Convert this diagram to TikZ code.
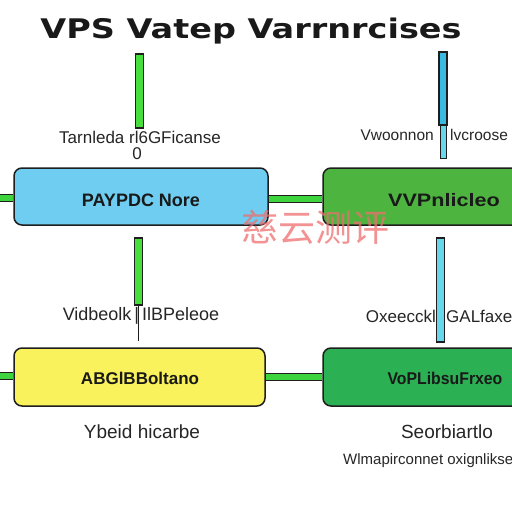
\documentclass[tikz,border=0pt]{standalone}
\usepackage{fontspec}
\setmainfont{Liberation Sans}
\newfontfamily\titlefont{DejaVu Sans}
\newfontfamily\cjk{Noto Sans CJK SC}
\definecolor{boxblue}{RGB}{110,205,240}
\definecolor{boxgreenA}{RGB}{78,180,64}
\definecolor{boxgreenB}{RGB}{44,176,84}
\definecolor{boxyellow}{RGB}{250,242,92}
\definecolor{conngreen}{RGB}{62,212,62}
\definecolor{bargreen}{RGB}{72,222,62}
\definecolor{barcyan}{RGB}{58,185,225}
\definecolor{barcyanlight}{RGB}{105,215,235}
\definecolor{outline}{RGB}{30,30,30}
\definecolor{wm}{RGB}{238,110,110}
\tikzset{
  panel/.style={draw=outline, line width=1.5pt, rounded corners=8pt, minimum height=57pt, inner sep=0pt},
  boxtxt/.style={inner sep=0pt, text=black!90, font=\fontsize{18}{18}\selectfont\bfseries},
  barbox/.style={draw=outline, line width=1.1pt, inner sep=0pt, minimum width=8pt},
  link/.style={draw=outline, line width=1.2pt, double=conngreen, double distance=6pt},
  lbl/.style={inner sep=0pt, text=black!85, font=\fontsize{17}{17}\selectfont},
  lblbig/.style={inner sep=0pt, text=black!85, font=\fontsize{19}{19}\selectfont},
  lblsmall/.style={inner sep=0pt, text=black!85, font=\fontsize{15}{15}\selectfont},
}
\begin{document}
\begin{tikzpicture}[x=1pt,y=-1pt]
\clip (0,0) rectangle (512,512);
\fill[white] (0,0) rectangle (512,512);
% title
\node[inner sep=0pt, text=black!90, font=\titlefont\bfseries\fontsize{27}{27}\selectfont] (title) at (251,31) {\scalebox{1.24}[1]{VPS Vatep Varrnrcises}};
% vertical bars
\node[barbox, fill=bargreen, minimum height=74pt] (barTL) at (139.5,91) {};
\node[barbox, fill=barcyan, minimum height=73pt] (barTR) at (443,88.5) {};
\node[draw=outline, line width=0.6pt, fill=barcyanlight, inner sep=0pt, minimum width=6pt, minimum height=33pt] (barTRb) at (443,141.5) {};
\node[barbox, fill=bargreen, minimum height=67pt] (barML) at (138.5,271.5) {};
\coordinate (barMLend) at (138.5,341);
\draw[outline, line width=1.4pt] (barML.south) -- (barMLend);
\node[barbox, fill=barcyanlight, minimum height=104pt] (barMR) at (440.5,290) {};
% labels
\node[lbl] (lTL) at (140,137) {Tarnleda rl6GFicanse};
\node[lbl] (lTL0) at (137,154) {0};
\node[lbl, anchor=east, font=\fontsize{15.5}{15.5}\selectfont] (lTRa) at (434,135) {Vwoonnon};
\node[lbl, anchor=west, font=\fontsize{15.5}{15.5}\selectfont] (lTRb) at (450,135) {lvcroose};
\node[lbl, font=\fontsize{18}{18}\selectfont] (lML) at (141,316) {Vidbeolk\,|\,IlBPeleoe};
\node[lbl, anchor=east] (lMRa) at (436,316) {Oxeecckl};
\node[lbl, anchor=west] (lMRb) at (446,316) {GALfaxe};
% boxes
\node[panel, fill=boxblue, minimum width=254pt] (blue) at (141,196.5) {};
\node[boxtxt] (bluetxt) at (141,200) {PAYPDC Nore};
\node[panel, fill=boxgreenA, minimum width=200pt] (greenA) at (423,196.5) {};
\node[boxtxt] (greenAtxt) at (444,200) {\scalebox{1.2}[1]{VVPnlicleo}};
\node[panel, fill=boxyellow, minimum width=251pt, minimum height=58pt] (yellow) at (139.5,377) {};
\node[boxtxt, font=\fontsize{17}{17}\selectfont\bfseries] (yellowtxt) at (140,378) {ABGlBBoltano};
\node[panel, fill=boxgreenB, minimum width=200pt, minimum height=58pt] (greenB) at (423,377) {};
\node[boxtxt, font=\fontsize{17}{17}\selectfont\bfseries] (greenBtxt) at (445,378) {\scalebox{0.93}[1]{VoPLibsuFrxeo}};
% connectors
\coordinate (stubA) at (-2,198);
\coordinate (stubB) at (-2,376);
\draw[link] (stubA) -- (blue.west |- stubA);
\draw[link] (stubB) -- (yellow.west |- stubB);
\draw[link] (blue.east |- 0,199) -- (greenA.west |- 0,199);
\draw[link] (yellow.east |- 0,377) -- (greenB.west |- 0,377);
% bottom labels
\node[lblbig] (bL) at (142,432) {Ybeid hicarbe};
\node[lblbig] (bR) at (447,432) {Seorbiartlo};
\node[lblsmall, anchor=west] (bR2) at (343,461) {Wlmapirconnet oxignlikse};
% watermark
\node[inner sep=0pt, text=wm, opacity=0.75, font=\cjk\fontsize{37}{37}\selectfont] (wmk) at (315,227) {慈云测评};
\end{tikzpicture}
\end{document}
